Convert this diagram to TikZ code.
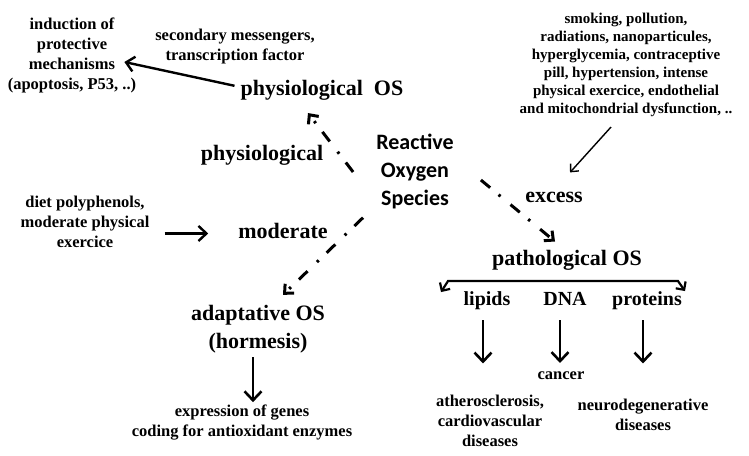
\documentclass[tikz,border=0pt]{standalone}
\usepackage{fontspec}
\setmainfont{Liberation Serif}
\newfontfamily\carlito{Carlito}
\usetikzlibrary{arrows.meta,calc}
\begin{document}
\begin{tikzpicture}[x=1pt, y=-1pt,
    small/.style={font=\fontsize{16.5}{20}\selectfont\bfseries, align=center, inner sep=0pt},
    big/.style={font=\fontsize{22}{28}\selectfont\bfseries, align=center, inner sep=0pt},
    mid/.style={font=\fontsize{20}{24}\selectfont\bfseries, inner sep=0pt, anchor=base},
    sol/.style={line width=2.4pt, -{Straight Barb[length=8pt, width=15pt]}},
    down/.style={line width=2.6pt, -{Straight Barb[length=9pt, width=17pt]}},
    dashdot/.style={line width=3pt, dash pattern=on 12pt off 11pt on 2.5pt off 13pt, -{Straight Barb[length=7pt, width=13pt]}}]
  \useasboundingbox (0,0) rectangle (749,455);

  \node [small] (induct) at (72,55) {induction of\\protective\\mechanisms\\(apoptosis, P53, ..)};
  \node [small] (messengers) at (235,47) {secondary messengers,\\transcription factor};
  \node [big, anchor=base] (physOS) at (322,95) {physiological\ \ OS};
  \node [big, anchor=base] (physio) at (262,160) {physiological};
  \node [font=\carlito\fontsize{22}{28}\selectfont\bfseries, align=center, inner sep=0pt] (ros) at (415,171) {Reactive\\Oxygen\\Species};
  \node [small, font=\fontsize{15}{18}\selectfont\bfseries] (causes) at (626,65) {smoking, pollution,\\radiations, nanoparticules,\\hyperglycemia, contraceptive\\pill, hypertension, intense\\physical exercice, endothelial\\and mitochondrial dysfunction, ..};
  \node [big, anchor=base] (excess) at (554,202) {excess};
  \node [big, anchor=base] (pathOS) at (567,265) {pathological OS};
  \node [mid] (lipids) at (487,305) {lipids};
  \node [mid] (dna) at (565,305) {DNA};
  \node [mid] (proteins) at (647,305) {proteins};
  \node [small, anchor=base] (cancer) at (561,379) {cancer};
  \node [small] (athero) at (490,421) {atherosclerosis,\\cardiovascular\\diseases};
  \node [small] (neuro) at (643,415) {neurodegenerative\\diseases};
  \node [small] (diet) at (85,222) {diet polyphenols,\\moderate physical\\exercice};
  \node [big, anchor=base] (moderate) at (283,238) {moderate};
  \node [big] (adapt) at (258,329) {adaptative OS\\(hormesis)};
  \node [small] (genes) at (242,423) {expression of genes\\coding for antioxidant enzymes};

  \draw [sol] ($(physOS.west)+(-6,-4)$) -- ($(induct.east)+(-12,7)$);
  \draw [dashdot] ($(ros.west)+(-23,1)$) -- ($(physOS.south)+(-14,13)$);
  \draw [dashdot] ($(ros.east)+(27,9)$) -- ($(pathOS.north)+(-12,-8)$);
  \draw [dashdot] ($(ros.south)+(-52,9)$) -- ($(adapt.north)+(25,-10)$);
  \draw [line width=1.4pt, -{Straight Barb[length=6pt, width=11pt]}] ($(causes.south)+(-15,10)$) -- ($(excess.north)+(16,-19)$);
  \draw [sol] ($(diet.east |- moderate.west)+(15,3)$) -- ($(moderate.west)+(-30,3)$);
  \draw [down] ($(adapt.south)+(-5,4)$) -- ($(genes.north)+(11,-3)$);

  \coordinate (bl) at ($(pathOS.south)+(-126,22)$);
  \coordinate (br) at ($(pathOS.south)+(118,21)$);
  \draw [line width=2.2pt, {Straight Barb[length=6pt, width=12pt]}-{Straight Barb[length=6pt, width=12pt]}] (bl) -- ++(7,-11) -- ($(br)+(-7,-10)$) -- (br);

  \draw [down] ($(lipids.south)+(-4,11)$) -- ($(lipids.south)+(-4,54)$);
  \draw [down] ($(dna.south)+(-5,15)$) -- ($(cancer.north)+(-1,-8)$);
  \draw [down] ($(proteins.south)+(-4,11)$) -- ($(proteins.south)+(-4,54)$);
\end{tikzpicture}
\end{document}
